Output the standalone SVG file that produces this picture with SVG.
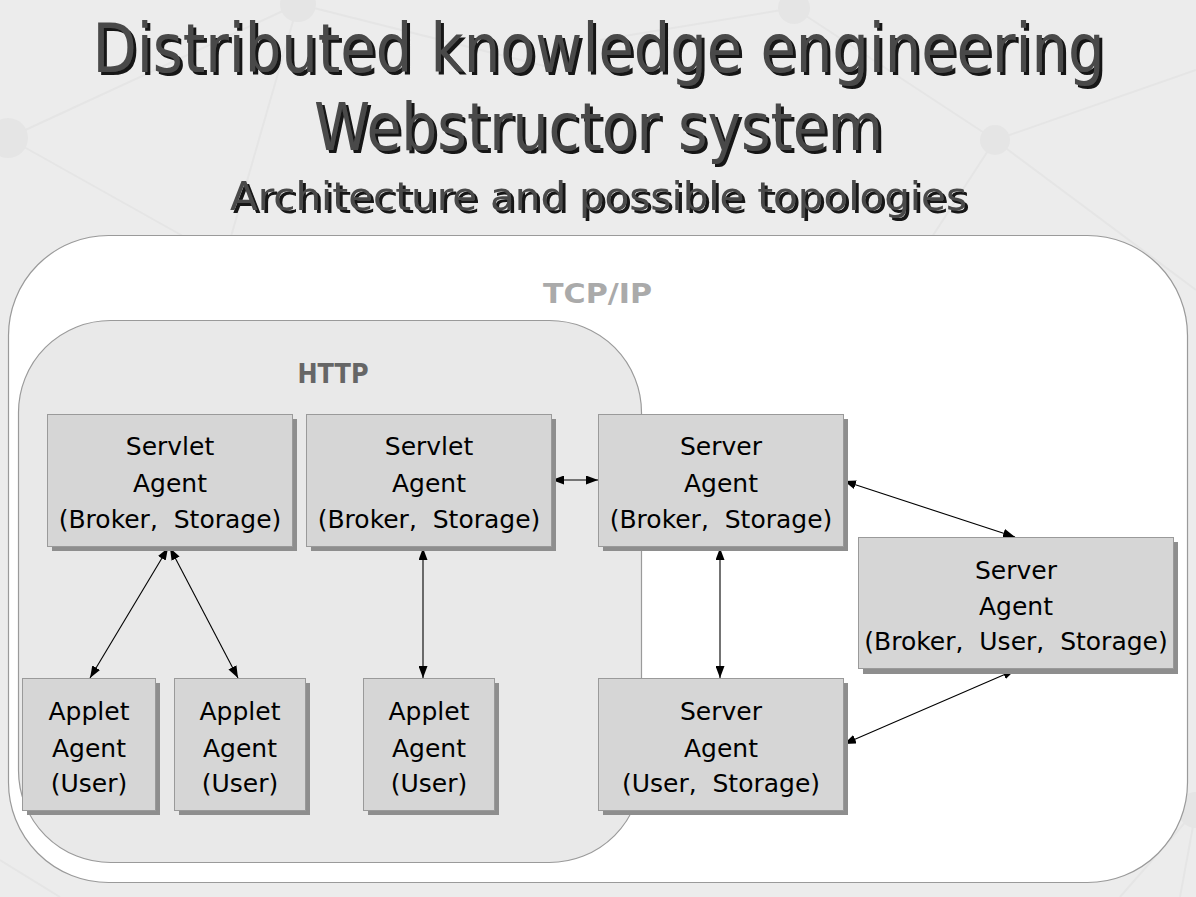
<svg xmlns="http://www.w3.org/2000/svg" width="1196" height="897" viewBox="0 0 1196 897">
<defs>
<style>
.bgl{stroke:#e5e5e5;stroke-width:2;fill:none}
.bgc{fill:#e5e5e5}
.t1{font-family:"DejaVu Sans","Liberation Sans",sans-serif;font-stretch:condensed;text-anchor:middle;fill:#4a4a4a;filter:url(#ts)}
.box{fill:#d6d6d6;stroke:#9a9a9a;stroke-width:1}
.shd{fill:#8e8e8e}
.lbl{font-family:"DejaVu Sans","Liberation Sans",sans-serif;font-size:25px;fill:#000;text-anchor:middle}
.zone{font-family:"DejaVu Sans","Liberation Sans",sans-serif;font-weight:bold;font-size:27px;text-anchor:middle}
.con{stroke:#000;stroke-width:1.1;fill:none;marker-start:url(#ah);marker-end:url(#ah)}
</style>
<filter id="ts" x="-5%" y="-30%" width="110%" height="160%">
<feOffset in="SourceAlpha" dx="2.5" dy="2.5" result="o"/>
<feFlood flood-color="#141414"/>
<feComposite in2="o" operator="in"/>
<feMerge><feMergeNode/><feMergeNode in="SourceGraphic"/></feMerge>
</filter>
<marker id="ah" viewBox="0 0 12 9" refX="12" refY="4.5" markerWidth="12" markerHeight="9" markerUnits="userSpaceOnUse" orient="auto-start-reverse">
<path d="M0,0 L12,4.5 L0,9 z" fill="#000"/>
</marker>
</defs>
<rect x="0" y="0" width="1196" height="897" fill="#ececec"/>
<g id="background-decoration">
<path class="bgl" d="M298,4 L8,138 M298,4 L230,240 M8,138 L190,240 M8,138 L0,150 M298,4 L560,70 M794,8 L995,140 M794,8 L600,40 M995,140 L1196,70 M995,140 L1196,290 M995,140 L930,240 M0,860 L60,897 M1196,810 L1120,897 M1196,810 L1180,897"/>
<circle class="bgc" cx="298" cy="4" r="18"/>
<circle class="bgc" cx="8" cy="138" r="20"/>
<circle class="bgc" cx="794" cy="8" r="16"/>
<circle class="bgc" cx="995" cy="140" r="15"/>
<circle class="bgc" cx="1196" cy="810" r="18"/>
</g>
<g id="title">
<text class="t1" x="598.5" y="72" font-size="68" textLength="1012" lengthAdjust="spacingAndGlyphs">Distributed knowledge engineering</text>
<text class="t1" x="598.5" y="150" font-size="66" textLength="569" lengthAdjust="spacingAndGlyphs">Webstructor system</text>
<text class="t1" x="598.5" y="210" font-size="39" textLength="737" lengthAdjust="spacingAndGlyphs">Architecture and possible topologies</text>
</g>
<g id="zone-tcpip">
<rect x="8.5" y="235.5" width="1179" height="647" rx="100" ry="100" fill="#ffffff" stroke="#9a9a9a" stroke-width="1.2"/>
<text class="zone" x="597.5" y="303" fill="#aaaaaa" textLength="109" lengthAdjust="spacingAndGlyphs">TCP/IP</text>
</g>
<g id="zone-http">
<rect x="18.5" y="320.5" width="623" height="542" rx="92" ry="92" fill="#e9e9e9" stroke="#9a9a9a" stroke-width="1.2"/>
<text class="zone" x="333" y="383" fill="#666666" textLength="71" lengthAdjust="spacingAndGlyphs">HTTP</text>
</g>
<g id="connectors">
<line class="con" x1="168" y1="548" x2="90" y2="678"/>
<line class="con" x1="170" y1="548" x2="238" y2="678"/>
<line class="con" x1="423" y1="548" x2="423" y2="678"/>
<line class="con" x1="552" y1="480" x2="598" y2="480"/>
<line class="con" x1="844" y1="481" x2="1015" y2="537"/>
<line class="con" x1="720" y1="548" x2="720" y2="678"/>
<line class="con" x1="1015" y1="670" x2="844" y2="744"/>
</g>
<g id="servlet-agent-1">
<rect class="shd" x="52" y="419" width="245" height="132"/>
<rect class="box" x="47.5" y="414.5" width="245" height="132"/>
<text class="lbl" x="170" y="455">Servlet</text>
<text class="lbl" x="170" y="492">Agent</text>
<text class="lbl" x="170" y="528" xml:space="preserve">(Broker,  Storage)</text>
</g>
<g id="servlet-agent-2">
<rect class="shd" x="311" y="419" width="245" height="132"/>
<rect class="box" x="306.5" y="414.5" width="245" height="132"/>
<text class="lbl" x="429" y="455">Servlet</text>
<text class="lbl" x="429" y="492">Agent</text>
<text class="lbl" x="429" y="528" xml:space="preserve">(Broker,  Storage)</text>
</g>
<g id="server-agent-broker-storage">
<rect class="shd" x="603" y="419" width="245" height="132"/>
<rect class="box" x="598.5" y="414.5" width="245" height="132"/>
<text class="lbl" x="721" y="455">Server</text>
<text class="lbl" x="721" y="492">Agent</text>
<text class="lbl" x="721" y="528" xml:space="preserve">(Broker,  Storage)</text>
</g>
<g id="server-agent-broker-user-storage">
<rect class="shd" x="863" y="542" width="315" height="132"/>
<rect class="box" x="858.5" y="537.5" width="315" height="131"/>
<text class="lbl" x="1016" y="579">Server</text>
<text class="lbl" x="1016" y="615">Agent</text>
<text class="lbl" x="1016" y="650" xml:space="preserve">(Broker,  User,  Storage)</text>
</g>
<g id="server-agent-user-storage">
<rect class="shd" x="603" y="683" width="245" height="132"/>
<rect class="box" x="598.5" y="678.5" width="245" height="132"/>
<text class="lbl" x="721" y="720">Server</text>
<text class="lbl" x="721" y="757">Agent</text>
<text class="lbl" x="721" y="792" xml:space="preserve">(User,  Storage)</text>
</g>
<g id="applet-agent-1">
<rect class="shd" x="27" y="683" width="133" height="132"/>
<rect class="box" x="22.5" y="678.5" width="133" height="132"/>
<text class="lbl" x="89" y="720">Applet</text>
<text class="lbl" x="89" y="757">Agent</text>
<text class="lbl" x="89" y="792">(User)</text>
</g>
<g id="applet-agent-2">
<rect class="shd" x="179" y="683" width="131" height="132"/>
<rect class="box" x="174.5" y="678.5" width="131" height="132"/>
<text class="lbl" x="240" y="720">Applet</text>
<text class="lbl" x="240" y="757">Agent</text>
<text class="lbl" x="240" y="792">(User)</text>
</g>
<g id="applet-agent-3">
<rect class="shd" x="368" y="683" width="131" height="132"/>
<rect class="box" x="363.5" y="678.5" width="131" height="132"/>
<text class="lbl" x="429" y="720">Applet</text>
<text class="lbl" x="429" y="757">Agent</text>
<text class="lbl" x="429" y="792">(User)</text>
</g>
</svg>
